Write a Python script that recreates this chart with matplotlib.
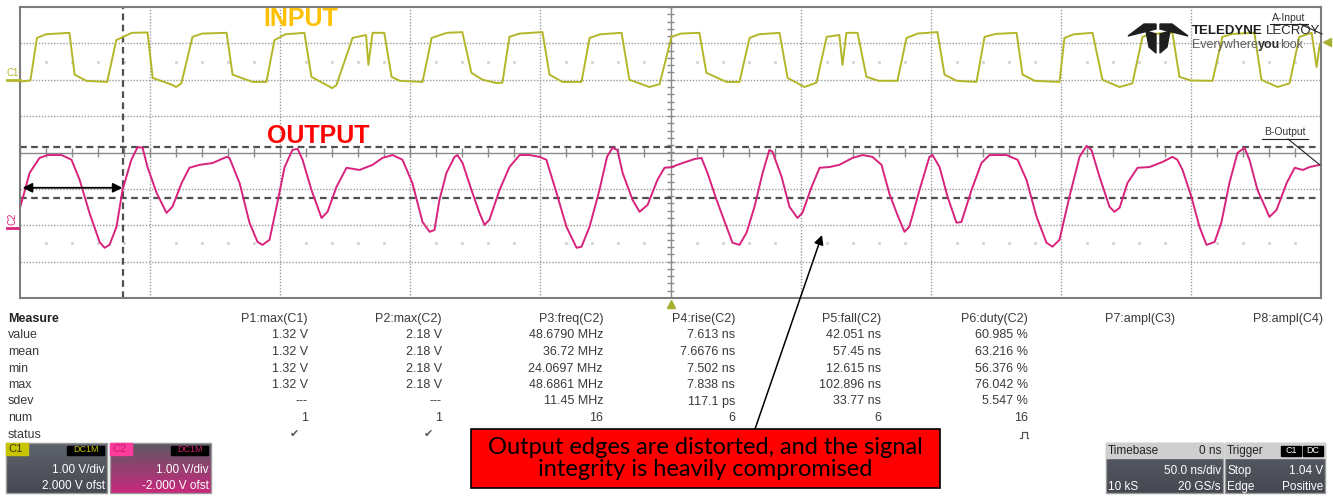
import numpy as np
import matplotlib
matplotlib.use('Agg')
import matplotlib.pyplot as plt
from matplotlib.patches import Rectangle, Polygon
from matplotlib.collections import LineCollection

plt.rcParams['font.family'] = ['Liberation Sans', 'DejaVu Sans']

# ---- waveform data (time in ns, volts) ----
c1_t = [-250, -246, -243.5, -240, -231, -229, -224.5, -216.5, -213, -207, -201, -199, -191.5, -190, -188,
        -183.7, -180, -170.6, -168.3, -160.6, -155.3, -152.2, -148, -140.7, -138, -130, -128.4, -122.2,
        -117, -116.1, -114.5, -110, -107.2, -104, -95.3, -91.8, -86, -80, -76.5, -72.2, -66.9, -64.6,
        -61.9, -58, -49.2, -46.5, -41.5, -34.2, -31.1, -27, -18.8, -15.8, -8.1, -4.2, 0.4, 4, 11.1, 13.8,
        21.5, 26.5, 30.4, 34, 41.9, 45, 51.5, 56.1, 60, 64.9, 66.1, 67.6, 71.9, 75.3, 80, 87.2, 90.7, 95,
        102.6, 105.3, 110, 117.6, 120.7, 125, 133, 135.3, 140, 149.5, 151.4, 155, 162.2, 166, 172.6,
        177.5, 181.4, 185, 192.9, 195.6, 200, 208.3, 212.1, 216, 224.4, 227.1, 233.3, 237.9, 241.7,
        246.4, 248.3, 249.5]
c1_v = [-0.05, -0.02, 1.15, 1.25, 1.29, 0.14, -0.03, -0.06, 1.09, 1.29, 1.30, 0.05, -0.14, -0.20, -0.10,
        1.18, 1.27, 1.29, 0.14, -0.06, -0.06, 1.09, 1.25, 1.29, 0.08, -0.23, -0.15, 1.15,
        1.23, 0.41, 1.29, 1.29, 0.08, -0.03, -0.06, 1.15, 1.29, 1.31, 0.19, 0.00, -0.09, -0.08,
        1.18, 1.27, 1.31, 0.14, -0.06, -0.06, 1.15, 1.25, 1.29, 0.00, -0.20, -0.12, 1.18, 1.27, 1.29, 0.19,
        -0.06, -0.06, 1.15, 1.25, 1.29, 0.05, -0.20, -0.08, 1.18, 1.23, 0.41, 1.29, 1.29, 0.08, -0.03, -0.03, 1.15, 1.27,
        1.31, 0.14, -0.03, -0.06, 1.18, 1.26, 1.29, 0.14, -0.03, -0.06, 1.15, 1.25, 1.29, 0.00, -0.20,
        -0.10, 1.18, 1.26, 1.29, 0.08, -0.02, -0.03, 1.18, 1.26, 1.29, 0.00, -0.20, -0.10, 1.18,
        1.29, 0.35, 0.96]

c2_t = [-250.2, -246.3, -242.5, -239.4, -234.0, -230.2, -227.1, -223.3, -219.4, -217.5,
        -215.6, -212.9, -210.6, -207.2, -204.8, -202.9, -201.0, -197.5, -193.7, -191.4,
        -187.9, -184.9, -181.0, -176.0, -170.6, -169.5, -165.6, -161.8, -158.7, -156.8,
        -154.1, -151.4, -148.3, -145.3, -143.3, -141.4, -138.0, -134.1, -131.8, -128.4,
        -124.5, -119.5, -114.5, -110.7, -106.8, -103.0, -99.2, -95.3, -92.6, -90.7,
        -88.8, -86.1, -83.0, -81.9, -79.9, -76.5, -73.4, -71.5, -69.6, -65.7,
        -61.9, -58.0, -54.2, -50.3, -47.7, -43.8, -40.0, -36.1, -34.2, -31.1,
        -27.3, -24.4, -22.3, -20.4, -18.4, -14.6, -11.9, -8.8, -5.0, -2.3,
        0.4, 4.6, 9.2, 11.9, 14.2, 17.7, 21.5, 23.8, 26.5, 29.2,
        32.3, 35.4, 38.0, 39.2, 42.7, 45.7, 48.8, 50.7, 54.2, 57.3,
        61.1, 64.9, 69.9, 73.8, 77.6, 81.1, 84.2, 86.9, 89.9, 91.8,
        95.7, 99.5, 100.7, 103.4, 106.5, 109.9, 111.8, 115.7, 119.5, 122.6,
        129.1, 133.4, 136.8, 140.7, 144.5, 146.8, 149.5, 153.3, 157.2, 159.9,
        161.8, 164.9, 168.7, 170.6, 172.6, 175.6, 179.5, 184.1, 189.1, 192.9,
        194.8, 196.8, 200.2, 203.3, 206.0, 209.1, 211.7, 214.8, 217.9, 220.6,
        222.5, 225.6, 230.2, 232.9, 236.8, 239.9, 243.0, 245.6, 249.4]
c2_v = [0.42, 1.44, 1.85, 1.93, 1.93, 1.80, 1.25, 0.34, -0.46, -0.62,
        -0.54, -0.04, 0.97, 1.80, 2.15, 2.13, 1.60, 0.89, 0.34, 0.51,
        1.16, 1.58, 1.66, 1.71, 1.88, 1.85, 1.16, 0.07, -0.46, -0.54,
        -0.40, 0.51, 1.60, 2.07, 2.10, 1.80, 0.97, 0.20, 0.37, 1.05,
        1.58, 1.52, 1.66, 1.85, 1.93, 1.80, 1.16, 0.09, -0.18, -0.13,
        0.70, 1.44, 1.88, 1.93, 1.71, 0.97, 0.34, 0.01, 0.15, 0.97,
        1.60, 1.93, 1.93, 1.88, 1.80, 0.89, -0.04, -0.62, -0.59, -0.04,
        0.97, 1.88, 2.13, 2.07, 1.44, 0.70, 0.37, 0.56, 1.25, 1.58,
        1.60, 1.71, 1.82, 1.85, 1.44, 0.70, -0.04, -0.48, -0.54, -0.21,
        0.51, 1.44, 2.07, 2.02, 1.33, 0.51, 0.20, 0.34, 1.05, 1.58,
        1.60, 1.66, 1.85, 1.93, 1.88, 1.66, 0.85, 0.34, -0.18, -0.04,
        0.97, 1.88, 1.93, 1.60, 0.78, 0.07, 0.09, 0.97, 1.71, 1.93,
        1.93, 1.80, 1.25, 0.23, -0.48, -0.59, -0.40, 0.78, 1.88, 2.18,
        2.07, 1.33, 0.51, 0.37, 0.48, 1.16, 1.58, 1.60, 1.74, 1.88,
        1.80, 1.52, 0.78, -0.04, -0.54, -0.46, 0.07, 1.16, 1.99, 2.13,
        1.80, 0.97, 0.23, 0.42, 1.16, 1.58, 1.52, 1.60, 1.66]

c1_offset = 2.0      # V, shown as "2.000 V ofst"
c2_offset = -2.0
volts_per_div = 1.0
ns_per_div = 50.0
c2_cursors = [2.15, 0.75]   # horizontal cursors (C2 volts)
t_cursor = -210.6           # vertical cursor (ns)
arrow_t = [-249.0, -210.6]
arrow_v = 1.03              # C2 volts

# ---- measurement table ----
row_labels = ['value', 'mean', 'min', 'max', 'sdev', 'num', 'status']
param_names = ['P1:max(C1)', 'P2:max(C2)', 'P3:freq(C2)', 'P4:rise(C2)',
               'P5:fall(C2)', 'P6:duty(C2)', 'P7:ampl(C3)', 'P8:ampl(C4)']
p1_vals = ['1.32 V', '1.32 V', '1.32 V', '1.32 V', '---', '1', 'ok']
p2_vals = ['2.18 V', '2.18 V', '2.18 V', '2.18 V', '---', '1', 'ok']
p3_vals = ['48.6790 MHz', '36.72 MHz', '24.0697 MHz', '48.6861 MHz', '11.45 MHz', '16', '']
p4_vals = ['7.613 ns', '7.6676 ns', '7.502 ns', '7.838 ns', '117.1 ps', '6', '']
p5_vals = ['42.051 ns', '57.45 ns', '12.615 ns', '102.896 ns', '33.77 ns', '6', '']
p6_vals = ['60.985 %', '63.216 %', '56.376 %', '76.042 %', '5.547 %', '16', 'pulse']
p7_vals = [''] * 7
p8_vals = [''] * 7
col_values = [p1_vals, p2_vals, p3_vals, p4_vals, p5_vals, p6_vals, p7_vals, p8_vals]

W, H = 1333, 497
C1_COL = '#b4b62a'
C2_COL = '#d8237c'

fig = plt.figure(figsize=(W / 100, H / 100), dpi=100)
fig.patch.set_facecolor('white')

# graticule area in pixels: x 20..1321, y 7..298
ax = fig.add_axes([20 / W, 1 - 298 / H, 1301 / W, 291 / H])
ax.set_xlim(-5 * ns_per_div, 5 * ns_per_div)
ax.set_ylim(-4, 4)
ax.set_xticks([])
ax.set_yticks([])
for s in ax.spines.values():
    s.set_color('#7d7d7d')
    s.set_linewidth(1.5)

for i in range(-4, 5):
    x = i * ns_per_div
    if i == 0:
        ax.axvline(x, color='#8a8a8a', lw=1.0)
    else:
        ax.axvline(x, color='#9a9a9a', lw=1.0, ls=(0, (1, 1.2)))
for j in range(-3, 4):
    if j == 0:
        ax.axhline(j, color='#8a8a8a', lw=1.0)
    else:
        ax.axhline(j, color='#9a9a9a', lw=1.0, ls=(0, (1, 1.2)))

# minor ticks on the centre cross
segs = []
for x in np.arange(-250, 251, 10):
    segs.append([(x, -0.11), (x, 0.11)])
for y in np.arange(-4, 4.01, 0.2):
    segs.append([(-1.3, y), (1.3, y)])
ax.add_collection(LineCollection(segs, colors='#8a8a8a', linewidths=1.0))

# faint graticule marks
fx = [x for x in np.arange(-240, 250, 10) if x % 50 != 0]
ax.plot(fx, [2.5] * len(fx), ls='none', marker='.', ms=2.5, color='#d2d2d2')
ax.plot(fx, [-2.5] * len(fx), ls='none', marker='.', ms=2.5, color='#d2d2d2')

# cursors
for cv in c2_cursors:
    ax.axhline((cv + c2_offset) / volts_per_div, color='#505050', lw=1.6, ls=(0, (3, 2)))
ax.axvline(t_cursor, color='#505050', lw=1.6, ls=(0, (3, 2)))

# traces
ax.plot(c1_t, (np.array(c1_v) + c1_offset) / volts_per_div, color=C1_COL, lw=1.4)
ax.plot(c2_t, (np.array(c2_v) + c2_offset) / volts_per_div, color=C2_COL, lw=1.4)

ax.annotate('', xy=(arrow_t[0], arrow_v + c2_offset), xytext=(arrow_t[1], arrow_v + c2_offset),
            arrowprops=dict(arrowstyle='<|-|>', color='black', lw=1.3, mutation_scale=14,
                            shrinkA=0, shrinkB=0))

# ---- overlay in pixel coordinates ----
ov = fig.add_axes([0, 0, 1, 1])
ov.set_xlim(0, W)
ov.set_ylim(H, 0)
ov.axis('off')
ov.patch.set_alpha(0)
renderer = fig.canvas.get_renderer()


def right_edge(t):
    bb = t.get_window_extent(renderer)
    return ov.transData.inverted().transform((bb.x1, bb.y0))[0]


ov.text(301, 19, 'INPUT', color='#FFC000', fontsize=18, weight='bold', ha='center', va='center')
ov.text(318, 136, 'OUTPUT', color='#FF0000', fontsize=18, weight='bold', ha='center', va='center')

ov.text(13, 73, 'C1', color=C1_COL, fontsize=7, ha='center', va='center')
ov.plot([7, 20], [80, 80], color=C1_COL, lw=2)
ov.text(12, 219, 'C2', color=C2_COL, fontsize=7, ha='center', va='center', rotation=90)
ov.plot([7, 18], [228, 228], color=C2_COL, lw=2)

# trigger markers
ov.plot([1327], [42], marker='<', ms=6, color='#a8b030', ls='none')
ov.plot([671], [304], marker='^', ms=6, color='#a8b030', ls='none')

# logo
logo = '#1e1e1e'
ov.add_patch(Polygon([(1128, 36), (1144, 24), (1156, 24), (1156, 29)], closed=True, color=logo))
ov.add_patch(Polygon([(1188, 36), (1172, 24), (1160, 24), (1160, 29)], closed=True, color=logo))
ov.add_patch(Polygon([(1146, 31), (1156, 34), (1156, 53), (1149, 47)], closed=True, color=logo))
ov.add_patch(Polygon([(1170, 31), (1160, 34), (1160, 53), (1167, 47)], closed=True, color=logo))
t1 = ov.text(1192, 31, 'TELEDYNE', fontsize=9.5, weight='bold', color=logo, ha='left', va='center')
ov.text(right_edge(t1) + 3, 31, 'LECROY', fontsize=9.5, color='#2a2a2a', ha='left', va='center')
t2 = ov.text(1192, 45, 'Everywhere', fontsize=9, color='#606060', ha='left', va='center')
t3 = ov.text(right_edge(t2), 45, 'you', fontsize=9, weight='bold', color='#303030', ha='left', va='center')
ov.text(right_edge(t3), 45, 'look', fontsize=9, color='#606060', ha='left', va='center')

ov.text(1289, 18, 'A-Input', fontsize=7.5, color='#333333', ha='center', va='center')
ov.plot([1270, 1308], [24, 24], color='#222222', lw=0.8)
ov.plot([1300, 1322], [24, 34], color='#222222', lw=0.8)
ov.text(1285, 132, 'B-Output', fontsize=7.5, color='#333333', ha='center', va='center')
ov.plot([1262, 1308], [139, 139], color='#222222', lw=0.8)
ov.plot([1288, 1320], [139, 165], color='#222222', lw=0.8)

# measurement table
row_y = [319, 335.5, 352, 368.5, 385, 401.5, 418, 434.5]
col_right = [308, 442, 603, 735, 881, 1028, 1175, 1323]
tcol = '#3a3a3a'
ov.text(8, row_y[0], 'Measure', fontsize=9, weight='bold', color='#222222', va='center')
for k, lab in enumerate(row_labels):
    ov.text(8, row_y[k + 1], lab, fontsize=9, color=tcol, va='center')
for c, name in enumerate(param_names):
    ov.text(col_right[c], row_y[0], name, fontsize=9, color=tcol, ha='right', va='center')
    for k, val in enumerate(col_values[c]):
        yy = row_y[k + 1]
        if val == 'ok':
            ov.text(col_right[c] - 14, yy, '\u2714', fontsize=8, color='#555555',
                    ha='center', va='center', family='DejaVu Sans')
        elif val == 'pulse':
            # pulse status icon (no installed font has this symbol)
            xc = col_right[c] - 4
            ov.plot([xc - 4, xc - 2.5, xc - 2.5, xc + 2.5, xc + 2.5, xc + 4],
                    [yy + 3, yy + 3, yy - 3, yy - 3, yy + 3, yy + 3], color='#555555', lw=0.9)
        elif val:
            ov.text(col_right[c], yy, val, fontsize=9, color=tcol, ha='right', va='center')

# annotation box + arrow
ov.add_patch(Rectangle((471, 429), 469, 59, facecolor='#FF0000', edgecolor='black', lw=1.2))
ov.text(705.5, 458.5, 'Output edges are distorted, and the signal\nintegrity is heavily compromised',
        fontsize=17, family=['Lato', 'DejaVu Sans'], color='black', ha='center', va='center',
        linespacing=1.08)
ov.annotate('', xy=(822, 235), xytext=(755, 429),
            arrowprops=dict(arrowstyle='-|>', color='black', lw=1.1, mutation_scale=14,
                            shrinkA=0, shrinkB=0))


def panel(x0, w, top_col, bot_col):
    grad = np.linspace(0, 1, 50)[:, None]
    c0 = np.array(matplotlib.colors.to_rgb(top_col))
    c1 = np.array(matplotlib.colors.to_rgb(bot_col))
    img = c0[None, None, :] * (1 - grad[:, :, None]) + c1[None, None, :] * grad[:, :, None]
    ov.imshow(img, extent=(x0, x0 + w, 493, 443), aspect='auto', zorder=2)
    ov.add_patch(Rectangle((x0, 443), w, 50, fill=False, edgecolor='#9a9a9a', lw=1, zorder=3))


# channel boxes
panel(6, 101, '#5e626b', '#474a52')
ov.add_patch(Rectangle((6, 443), 22, 12, color='#c8c400', zorder=4))
ov.text(8, 449.5, 'C1', fontsize=8, color='#3a3a10', va='center', zorder=5)
ov.add_patch(Rectangle((67, 445.5), 37, 9, color='black', zorder=4))
ov.text(85.5, 450, 'DC1M', fontsize=6.5, color='#c8c400', ha='center', va='center', zorder=5)
ov.text(105, 470, '1.00 V/div', fontsize=8.5, color='white', ha='right', va='center', zorder=5)
ov.text(105, 486, '2.000 V ofst', fontsize=8.5, color='white', ha='right', va='center', zorder=5)

panel(110, 101, '#5d5a64', '#c8287c')
ov.add_patch(Rectangle((110, 443), 22, 12, color='#ff3c9c', zorder=4))
ov.text(112, 449.5, 'C2', fontsize=8, color='#c01c6a', va='center', zorder=5)
ov.add_patch(Rectangle((171, 445.5), 37, 9, color='black', zorder=4))
ov.text(189.5, 450, 'DC1M', fontsize=6.5, color='#d0206c', ha='center', va='center', zorder=5)
ov.text(209, 470, '1.00 V/div', fontsize=8.5, color='white', ha='right', va='center', zorder=5)
ov.text(209, 486, '-2.000 V ofst', fontsize=8.5, color='white', ha='right', va='center', zorder=5)

# timebase / trigger boxes
panel(1106, 117, '#5a5e67', '#454850')
ov.add_patch(Rectangle((1106, 443), 117, 15, color='#cfcfcf', zorder=4))
ov.text(1108, 451, 'Timebase', fontsize=8.5, color='#222222', va='center', zorder=5)
ov.text(1221, 451, '0 ns', fontsize=8.5, color='#222222', ha='right', va='center', zorder=5)
ov.text(1221, 471, '50.0 ns/div', fontsize=8.5, color='white', ha='right', va='center', zorder=5)
ov.text(1108, 487, '10 kS', fontsize=8.5, color='white', va='center', zorder=5)
ov.text(1221, 487, '20 GS/s', fontsize=8.5, color='white', ha='right', va='center', zorder=5)

panel(1225, 100, '#5a5e67', '#454850')
ov.add_patch(Rectangle((1225, 443), 100, 15, color='#cfcfcf', zorder=4))
ov.text(1227, 451, 'Trigger', fontsize=8.5, color='#222222', va='center', zorder=5)
ov.add_patch(Rectangle((1281, 445.5), 20, 10, color='black', zorder=4))
ov.text(1291, 450.5, 'C1', fontsize=6.5, color='white', ha='center', va='center', zorder=5)
ov.add_patch(Rectangle((1303, 445.5), 20, 10, color='black', zorder=4))
ov.text(1313, 450.5, 'DC', fontsize=6.5, color='white', ha='center', va='center', zorder=5)
ov.text(1227, 471, 'Stop', fontsize=8.5, color='white', va='center', zorder=5)
ov.text(1323, 471, '1.04 V', fontsize=8.5, color='white', ha='right', va='center', zorder=5)
ov.text(1227, 487, 'Edge', fontsize=8.5, color='white', va='center', zorder=5)
ov.text(1323, 487, 'Positive', fontsize=8.5, color='white', ha='right', va='center', zorder=5)

ov.set_xlim(0, W)
ov.set_ylim(H, 0)

fig.savefig('out.png', dpi=100)
